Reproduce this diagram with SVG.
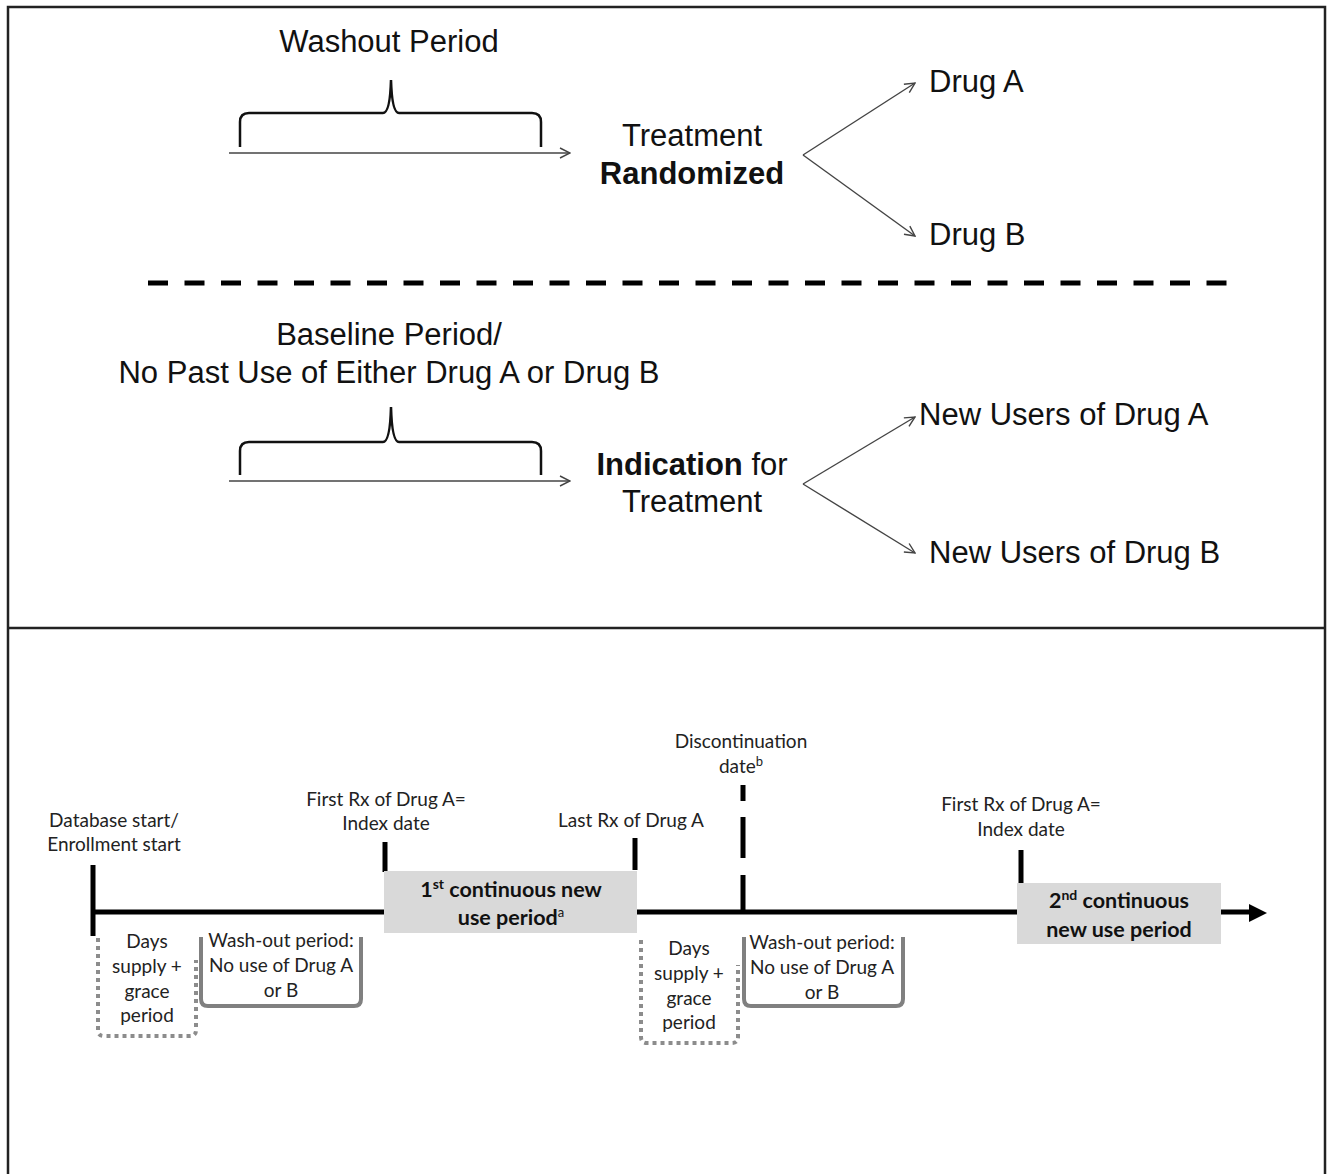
<svg xmlns="http://www.w3.org/2000/svg" width="1333" height="1174" viewBox="0 0 1333 1174">
<style>
.ar{font-family:"Liberation Sans",Arial,sans-serif;font-size:31px;fill:#111}
.ab{font-weight:bold}
.cal{font-family:Lato,"Open Sans",sans-serif;font-size:19px;fill:#222}
.calb{font-family:Lato,"Open Sans",sans-serif;font-size:21.5px;font-weight:bold;fill:#111}
.thin{fill:none;stroke:#444;stroke-width:1.4}
.brace{fill:none;stroke:#111;stroke-width:2.5}
.tick{stroke:#000;stroke-width:5}
.box{fill:#d9d9d9}
.dot{fill:none;stroke:#8c8c8c;stroke-width:4;stroke-dasharray:4 4}
.sol{fill:none;stroke:#808080;stroke-width:4}
</style>
<defs>
<marker id="open" viewBox="0 0 12 12" refX="11" refY="6" markerWidth="12" markerHeight="12" markerUnits="userSpaceOnUse" orient="auto">
<polyline points="1,1 11,6 1,11" fill="none" stroke="#444" stroke-width="1.4"/>
</marker>
</defs>
<rect x="8" y="7" width="1317" height="1180" fill="none" stroke="#222" stroke-width="2.5"/>
<line x1="8" y1="628" x2="1325" y2="628" stroke="#222" stroke-width="2.5"/>
<line x1="148" y1="283" x2="1228" y2="283" stroke="#000" stroke-width="5" stroke-dasharray="20 16.5"/>

<g id="connectors">
<line class="thin" x1="229" y1="153" x2="570" y2="153" marker-end="url(#open)"/>
<line class="thin" x1="229" y1="481" x2="570" y2="481" marker-end="url(#open)"/>
<line class="thin" x1="803" y1="155" x2="915" y2="83" marker-end="url(#open)"/>
<line class="thin" x1="803" y1="155" x2="915" y2="236" marker-end="url(#open)"/>
<line class="thin" x1="803" y1="484" x2="915" y2="417" marker-end="url(#open)"/>
<line class="thin" x1="803" y1="484" x2="915" y2="553" marker-end="url(#open)"/>
<line x1="92" y1="912" x2="1252" y2="912" stroke="#000" stroke-width="5"/>
<path d="M1249,904 L1267,913 L1249,922 z" fill="#000"/>
</g>

<g id="washout">
<path class="brace" d="M240,147 V122 Q240,113 249,113 H383 Q390,113 391,80 Q392,113 399,113 H532 Q541,113 541,122 V147"/>
<text class="ar" x="389" y="52" text-anchor="middle">Washout Period</text>
</g>
<g id="randomized">
<text class="ar" x="692" y="146" text-anchor="middle">Treatment</text>
<text class="ar ab" x="692" y="184" text-anchor="middle">Randomized</text>
</g>
<g id="drugA"><text class="ar" x="929" y="92">Drug A</text></g>
<g id="drugB"><text class="ar" x="929" y="245">Drug B</text></g>

<g id="baseline">
<path class="brace" d="M240,475 V451 Q240,442 249,442 H383 Q390,442 391,407 Q392,442 399,442 H532 Q541,442 541,451 V475"/>
<text class="ar" x="389" y="345" text-anchor="middle">Baseline Period/</text>
<text class="ar" x="389" y="383" text-anchor="middle">No Past Use of Either Drug A or Drug B</text>
</g>
<g id="indication">
<text class="ar" x="692" y="475" text-anchor="middle"><tspan class="ab">Indication</tspan> for</text>
<text class="ar" x="692" y="512" text-anchor="middle">Treatment</text>
</g>
<g id="newA"><text class="ar" x="919" y="425">New Users of Drug A</text></g>
<g id="newB"><text class="ar" x="929" y="563">New Users of Drug B</text></g>

<g id="dbstart">
<line class="tick" x1="93" y1="865" x2="93" y2="936"/>
<text class="cal" x="114" y="827" text-anchor="middle">Database start/</text>
<text class="cal" x="114" y="851" text-anchor="middle">Enrollment start</text>
</g>
<g id="grace1">
<path class="dot" d="M98,938 V1030 Q98,1036 104,1036 H190 Q196,1036 196,1030 V960"/>
<text class="cal" x="147" y="948" text-anchor="middle">Days</text>
<text class="cal" x="147" y="973" text-anchor="middle">supply +</text>
<text class="cal" x="147" y="998" text-anchor="middle">grace</text>
<text class="cal" x="147" y="1022" text-anchor="middle">period</text>
</g>
<g id="washout1">
<path class="sol" d="M201,937 V999 Q201,1006 208,1006 H354 Q361,1006 361,999 V937"/>
<text class="cal" x="281" y="947" text-anchor="middle">Wash-out period:</text>
<text class="cal" x="281" y="972" text-anchor="middle">No use of Drug A</text>
<text class="cal" x="281" y="997" text-anchor="middle">or B</text>
</g>
<g id="index1">
<line class="tick" x1="385" y1="842" x2="385" y2="872"/>
<text class="cal" x="386" y="806" text-anchor="middle">First Rx of Drug A=</text>
<text class="cal" x="386" y="830" text-anchor="middle">Index date</text>
</g>
<g id="period1">
<rect class="box" x="384" y="871" width="253" height="62"/>
<text class="calb" x="511" y="897" text-anchor="middle">1<tspan font-size="14" dy="-8">st</tspan><tspan dy="8"> continuous  new</tspan></text>
<text class="calb" x="511" y="925" text-anchor="middle">use period<tspan font-size="13" font-weight="normal" dy="-8">a</tspan></text>
</g>
<g id="lastrx">
<line class="tick" x1="635" y1="838" x2="635" y2="870"/>
<text class="cal" x="631" y="827" text-anchor="middle">Last Rx of Drug A</text>
</g>
<g id="discont">
<line x1="743" y1="785" x2="743" y2="912" stroke="#000" stroke-width="5" stroke-dasharray="16 16 41 17 40"/>
<text class="cal" x="741" y="748" text-anchor="middle">Discontinuation</text>
<text class="cal" x="741" y="773" text-anchor="middle">date<tspan font-size="13" dy="-7">b</tspan></text>
</g>
<g id="grace2">
<path class="dot" d="M641,940 V1037 Q641,1043 647,1043 H732 Q738,1043 738,1037 V965"/>
<text class="cal" x="689" y="955" text-anchor="middle">Days</text>
<text class="cal" x="689" y="980" text-anchor="middle">supply +</text>
<text class="cal" x="689" y="1005" text-anchor="middle">grace</text>
<text class="cal" x="689" y="1029" text-anchor="middle">period</text>
</g>
<g id="washout2">
<path class="sol" d="M744,937 V999 Q744,1006 751,1006 H896 Q903,1006 903,999 V937"/>
<text class="cal" x="822" y="949" text-anchor="middle">Wash-out period:</text>
<text class="cal" x="822" y="974" text-anchor="middle">No use of Drug A</text>
<text class="cal" x="822" y="999" text-anchor="middle">or B</text>
</g>
<g id="index2">
<line class="tick" x1="1021" y1="850" x2="1021" y2="884"/>
<text class="cal" x="1021" y="811" text-anchor="middle">First Rx of Drug A=</text>
<text class="cal" x="1021" y="836" text-anchor="middle">Index date</text>
</g>
<g id="period2">
<rect class="box" x="1017" y="883" width="204" height="61"/>
<text class="calb" x="1119" y="908" text-anchor="middle">2<tspan font-size="14" dy="-8">nd</tspan><tspan dy="8"> continuous</tspan></text>
<text class="calb" x="1119" y="937" text-anchor="middle">new use period</text>
</g>
</svg>
